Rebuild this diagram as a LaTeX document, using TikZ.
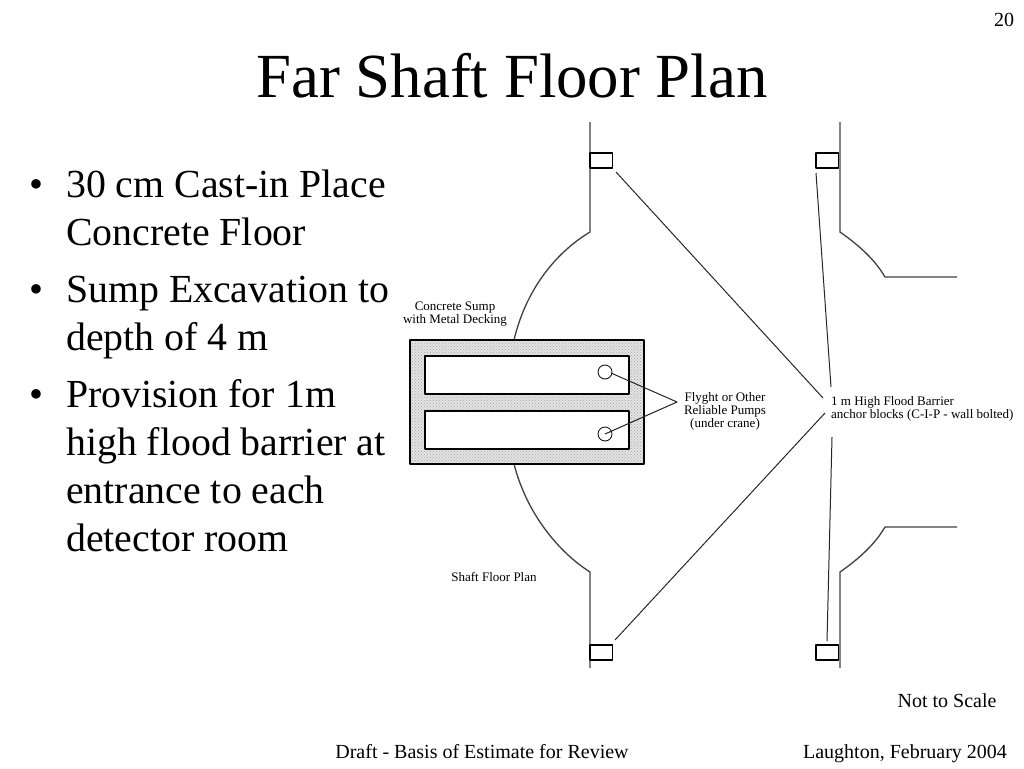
\documentclass[tikz,border=0pt]{standalone}
\usepackage{fontspec}
\setmainfont{Liberation Serif}
\usetikzlibrary{patterns}
\begin{document}
\begin{tikzpicture}[x=1pt, y=-1pt, line join=bevel,
        titletext/.style={inner sep=0pt, anchor=base, font=\fontsize{62.8}{64}\selectfont},
        bullettext/.style={inner sep=0pt, anchor=north west, align=left, font=\fontsize{39.8}{48}\selectfont},
        foottext/.style={inner sep=0pt, anchor=base, font=\fontsize{20}{20}\selectfont},
        smalltext/.style={inner sep=0pt, align=center, font=\fontsize{13}{13}\selectfont},
        wall/.style={draw=black!75, line width=1.3pt},
        blockbox/.style={draw=black, line width=1.4pt, fill=white},
        sumpbox/.style={draw=black, line width=1.8pt, fill=white},
        leader/.style={draw=black!85, line width=1pt}]
        \useasboundingbox (0, 0) rectangle (1024, 768);
        % Title, page number and footer
        \node[titletext] (title) at (512, 97) {Far Shaft Floor Plan};
        \node[foottext] (pagenum) at (1004, 27) {20};
        \node[foottext] (noscale) at (947, 707) {Not to Scale};
        \node[foottext] (draft) at (482, 758) {Draft - Basis of Estimate for Review};
        \node[foottext] (author) at (905, 758) {Laughton, February 2004};
        % Bullets
        \foreach \y/\name/\btext in {163.4/one/{30 cm Cast-in Place\\Concrete Floor}, 268.4/two/{Sump Excavation to\\depth of 4 m}, 373.4/three/{Provision for 1m\\high flood barrier at\\entrance to each\\detector room}} {
          \node[bullettext] (dot\name) at (29, \y) {\strut•};
          \node[bullettext] (item\name) at (66, \y) {\strut\btext};
        }
        % Walls
        \draw[wall] (590, 122) -- (590, 232) .. controls (560, 250) and (527, 285) .. (514, 340);
        \draw[wall] (514, 464) .. controls (527, 515) and (560, 553) .. (590, 572) -- (590, 668);
        \draw[wall] (840, 122) -- (840, 232) .. controls (860, 246) and (875, 260) .. (885, 277) -- (957, 277);
        \draw[wall] (840, 668) -- (840, 572) .. controls (860, 558) and (875, 544) .. (885, 527) -- (957, 527);
        % Anchor blocks
        \foreach \x/\y/\name in {590/153/ul, 816/153/ur, 590/645/ll, 816/645/lr} {
          \draw[blockbox] (\x, \y) rectangle ++(22.5, 15);
        }
        % Sump
        \fill[gray!22] (410, 340) rectangle (644, 464);
        \fill[pattern=crosshatch dots, pattern color=gray!70] (410, 340) rectangle (644, 464);
        \draw[black, line width=1.8pt] (410, 340) rectangle (644, 464);
        \draw[sumpbox] (425, 356) rectangle (629, 394);
        \draw[sumpbox] (425, 411) rectangle (629, 449);
        \node[circle, draw=black, line width=0.8pt, minimum size=14pt, inner sep=0pt] (pumpa) at (605, 372) {};
        \node[circle, draw=black, line width=0.8pt, minimum size=14pt, inner sep=0pt] (pumpb) at (605, 434) {};
        % Labels
        \node[smalltext] (sumplabel) at (455, 314) {Concrete Sump\\with Metal Decking};
        \node[smalltext] (pumplabel) at (725, 411) {Flyght or Other\\Reliable Pumps\\(under crane)};
        \node[smalltext, align=left, anchor=west] (barrierlabel) at (831, 408.5) {1 m High Flood Barrier\\anchor blocks (C-I-P - wall bolted)};
        \node[smalltext] (planlabel) at (494, 577) {Shaft Floor Plan};
        % Leaders
        \coordinate (pumptip) at (677, 402);
        \draw[leader] (pumpa.center) ++(6, 1) -- (pumptip);
        \draw[leader] (pumpb.center) -- (pumptip);
        \coordinate (ula) at (616, 172);
        \coordinate (ulb) at (823, 398);
        \coordinate (lla) at (615, 640);
        \coordinate (llb) at (825, 413);
        \coordinate (ura) at (816, 173);
        \coordinate (urb) at (831, 387);
        \coordinate (lra) at (827, 641);
        \coordinate (lrb) at (832, 437);
        \draw[leader] (ula) -- (ulb);
        \draw[leader] (lla) -- (llb);
        \draw[leader] (ura) -- (urb);
        \draw[leader] (lra) -- (lrb);
\end{tikzpicture}
\end{document}
